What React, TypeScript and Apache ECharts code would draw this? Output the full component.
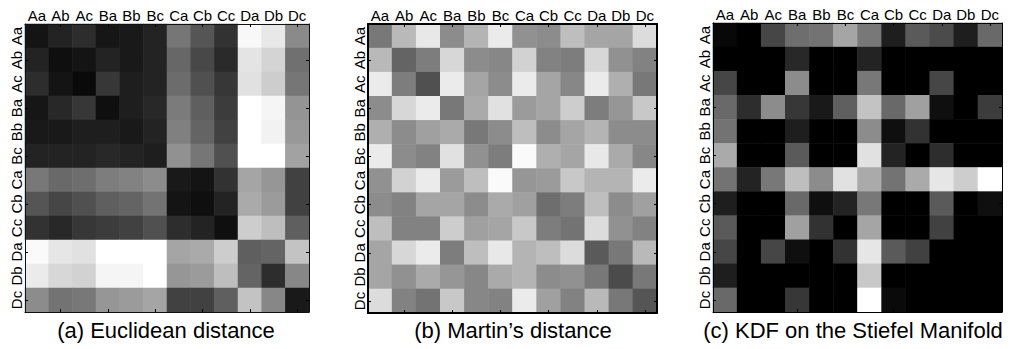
import React, { useEffect, useRef } from "react";
import * as echarts from "echarts";

const labels = ["Aa", "Ab", "Ac", "Ba", "Bb", "Bc", "Ca", "Cb", "Cc", "Da", "Db", "Dc"];

// gray levels (0 = black, 255 = white), rows top to bottom
const euclidean: number[][] = [
  [20, 35, 45, 22, 25, 35, 118, 85, 50, 248, 232, 138],
  [35, 15, 20, 35, 25, 35, 103, 72, 42, 228, 212, 112],
  [45, 20, 10, 55, 30, 35, 108, 80, 55, 225, 205, 118],
  [22, 40, 55, 15, 30, 40, 123, 95, 60, 255, 245, 148],
  [25, 25, 30, 30, 25, 35, 128, 100, 65, 255, 242, 152],
  [35, 35, 35, 40, 35, 30, 145, 118, 80, 255, 255, 162],
  [120, 105, 110, 125, 130, 140, 25, 20, 50, 165, 150, 65],
  [85, 70, 80, 95, 100, 115, 20, 15, 35, 170, 155, 65],
  [50, 40, 55, 60, 65, 80, 45, 35, 15, 205, 190, 95],
  [250, 230, 225, 255, 255, 255, 165, 170, 205, 95, 100, 195],
  [235, 215, 210, 245, 245, 255, 150, 155, 190, 100, 45, 135],
  [140, 115, 120, 150, 155, 165, 65, 65, 95, 195, 135, 25],
];

const martin: number[][] = [
  [120, 185, 232, 140, 180, 235, 145, 140, 190, 165, 165, 220],
  [185, 100, 125, 215, 140, 135, 210, 130, 125, 215, 145, 130],
  [235, 125, 80, 235, 165, 140, 235, 165, 135, 235, 175, 120],
  [140, 215, 235, 120, 170, 225, 155, 165, 205, 125, 150, 200],
  [175, 140, 160, 170, 120, 140, 190, 140, 165, 180, 140, 140],
  [235, 140, 130, 225, 145, 125, 250, 175, 165, 232, 170, 135],
  [145, 210, 235, 155, 190, 250, 150, 155, 200, 180, 180, 235],
  [140, 130, 165, 165, 140, 170, 160, 110, 125, 190, 140, 160],
  [190, 130, 130, 205, 160, 165, 200, 125, 115, 220, 145, 130],
  [165, 215, 235, 125, 190, 232, 180, 190, 220, 90, 120, 185],
  [165, 145, 170, 150, 135, 170, 180, 140, 145, 120, 75, 120],
  [220, 130, 115, 200, 135, 130, 235, 160, 130, 185, 120, 85],
];

const kdf: number[][] = [
  [8, 0, 70, 110, 115, 165, 120, 30, 90, 75, 30, 105],
  [0, 0, 0, 40, 0, 0, 35, 0, 0, 0, 0, 0],
  [70, 0, 0, 140, 0, 0, 120, 0, 0, 70, 0, 0],
  [105, 45, 140, 55, 25, 95, 195, 105, 160, 15, 0, 60],
  [115, 0, 0, 30, 0, 0, 140, 15, 50, 0, 0, 0],
  [170, 0, 0, 90, 0, 0, 225, 35, 0, 45, 0, 0],
  [115, 35, 120, 190, 140, 225, 170, 115, 170, 230, 205, 255],
  [30, 0, 0, 105, 15, 35, 120, 0, 0, 90, 0, 15],
  [90, 0, 0, 160, 50, 0, 165, 0, 0, 65, 0, 0],
  [70, 0, 70, 15, 0, 50, 230, 90, 65, 0, 0, 0],
  [30, 0, 0, 0, 0, 0, 200, 0, 0, 0, 0, 0],
  [105, 0, 0, 55, 0, 0, 255, 10, 0, 0, 0, 0],
];

const captions = ["(a) Euclidean distance", "(b) Martin\u2019s distance", "(c) KDF on the Stiefel Manifold"];

const FONT = "'Liberation Sans', Arial, Helvetica, sans-serif";

export default function App() {
  const ref = useRef<HTMLDivElement>(null);
  useEffect(() => {
    if (!ref.current) return;
    const chart = echarts.init(ref.current, undefined, { renderer: "svg" });
    const panels = [
      { m: euclidean, grid: { left: 25, top: 24, width: 284, height: 288 }, border: "#111", bw: 1, cx: 166 },
      { m: martin, grid: { left: 368, top: 24, width: 289, height: 289 }, border: "#000", bw: 2, cx: 513 },
      { m: kdf, grid: { left: 713, top: 23, width: 289, height: 289 }, border: "#000", bw: 1, cx: 853 },
    ];
    const tickInterval = (i: number) => i % 2 === 1;
    const grids: any[] = [];
    const xAxes: any[] = [];
    const yAxes: any[] = [];
    const series: any[] = [];
    const visualMaps: any[] = [];
    const graphics: any[] = [];
    panels.forEach((p, k) => {
      grids.push({ ...p.grid, containLabel: false });
      const tick = { show: true, inside: true, length: 3, alignWithLabel: true, interval: tickInterval, lineStyle: { color: "#000", width: 1 } };
      const line = { show: true, lineStyle: { color: p.border, width: p.bw } };
      xAxes.push({
        type: "category", gridIndex: k, position: "top", data: labels, z: 5,
        axisLine: line, axisTick: tick,
        axisLabel: { interval: 0, margin: 1, fontSize: 15, color: "#000", fontFamily: FONT },
        splitLine: { show: false },
      });
      xAxes.push({
        type: "category", gridIndex: k, position: "bottom", data: labels, z: 5,
        axisLine: line, axisTick: tick, axisLabel: { show: false }, splitLine: { show: false },
      });
      yAxes.push({
        type: "category", gridIndex: k, position: "left", data: labels, inverse: true, z: 5,
        axisLine: line, axisTick: tick,
        axisLabel: { interval: 0, rotate: 90, margin: 1, fontSize: 15, color: "#000", fontFamily: FONT },
        splitLine: { show: false },
      });
      yAxes.push({
        type: "category", gridIndex: k, position: "right", data: labels, inverse: true, z: 5,
        axisLine: line, axisTick: tick, axisLabel: { show: false }, splitLine: { show: false },
      });
      const data: number[][] = [];
      p.m.forEach((row, r) => row.forEach((v, c) => data.push([c, r, v])));
      series.push({
        type: "heatmap", xAxisIndex: 2 * k, yAxisIndex: 2 * k, data,
        itemStyle: { borderWidth: 0 }, emphasis: { disabled: true },
      });
      visualMaps.push({
        type: "continuous", show: false, seriesIndex: k, dimension: 2, min: 0, max: 255,
        inRange: { color: ["#000000", "#ffffff"] },
      });
      graphics.push({
        type: "text", x: p.cx, y: 330,
        style: { text: captions[k], fontSize: 22, fontFamily: FONT, fill: "#000", textAlign: "center", textVerticalAlign: "middle" },
      });
    });
    chart.setOption({
      animation: false,
      backgroundColor: "#ffffff",
      grid: grids,
      xAxis: xAxes,
      yAxis: yAxes,
      visualMap: visualMaps,
      series,
      graphic: graphics,
    });
    return () => chart.dispose();
  }, []);
  return <div ref={ref} style={{ position: "absolute", left: 0, top: 0, width: 1013, height: 349 }} />;
}
